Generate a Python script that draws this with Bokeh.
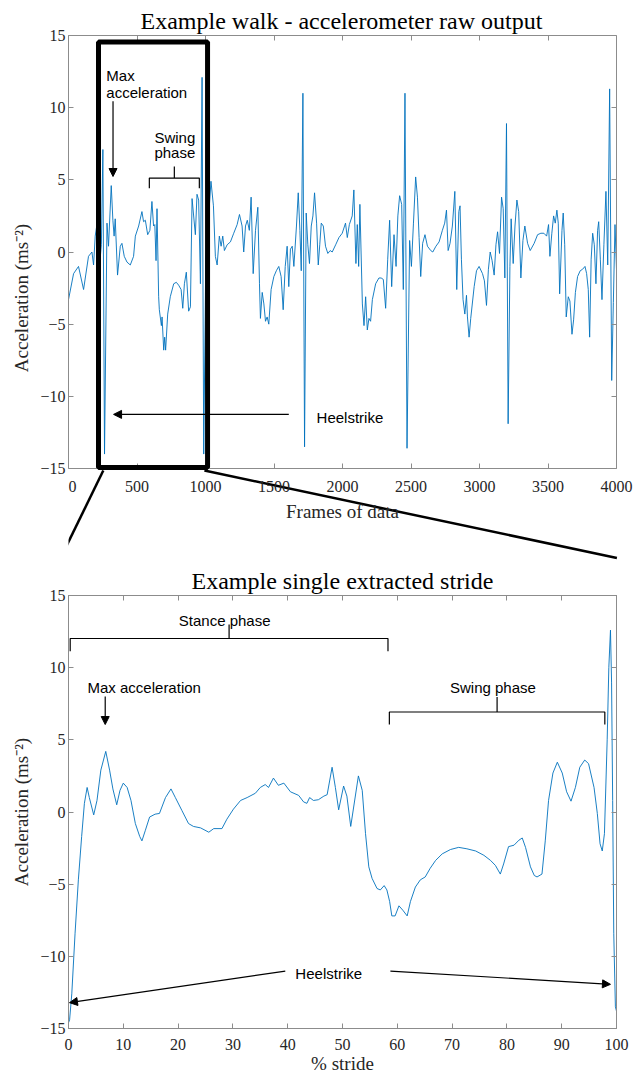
from bokeh.plotting import figure
from bokeh.layouts import column
from bokeh.models import (Range1d, LinearAxis, SingleIntervalTicker, CustomJSTickFormatter,
                          Label, Arrow, NormalHead, BoxAnnotation)
from bokeh.embed import file_html
from bokeh.resources import INLINE

# ---------------------------------------------------------------- data
# raw accelerometer trace of a walk (frame index, acceleration in m/s^2)
walk_frames = [
    0, 37, 73, 110, 146, 171, 183, 195, 212, 228, 240, 251, 263, 281, 292, 312, 324, 333,
    341, 358, 378, 390, 407, 427, 451, 475, 488, 512, 536, 548, 561, 578, 594, 609, 621,
    630, 639, 646, 658, 663, 678, 683, 695, 702, 709, 724, 743, 768, 787, 804, 822, 834,
    846, 860, 877, 890, 902, 926, 938, 950, 963, 975, 987, 1002, 1040, 1058, 1072, 1085,
    1101, 1114, 1126, 1138, 1158, 1182, 1206, 1231, 1248, 1267, 1279, 1292, 1305, 1320,
    1333, 1348, 1365, 1382, 1394, 1401, 1414, 1426, 1438, 1450, 1462, 1479, 1499, 1517,
    1535, 1552, 1567, 1582, 1596, 1608, 1620, 1633, 1645, 1664, 1677, 1689, 1699, 1711,
    1723, 1735, 1747, 1759, 1772, 1784, 1796, 1811, 1823, 1834, 1845, 1860, 1876, 1893,
    1910, 1925, 1950, 1974, 1998, 2022, 2035, 2050, 2071, 2083, 2098, 2108, 2118, 2127,
    2145, 2157, 2169, 2181, 2193, 2205, 2218, 2242, 2266, 2282, 2298, 2315, 2330, 2344,
    2359, 2376, 2391, 2404, 2417, 2432, 2444, 2456, 2471, 2490, 2503, 2518, 2534, 2547,
    2559, 2571, 2585, 2602, 2620, 2644, 2659, 2682, 2705, 2729, 2746, 2759, 2771, 2785,
    2802, 2820, 2834, 2849, 2858, 2868, 2880, 2893, 2905, 2912, 2924, 2936, 2961, 2978,
    2997, 3022, 3036, 3051, 3065, 3078, 3092, 3107, 3120, 3132, 3146, 3161, 3173, 3185,
    3197, 3209, 3222, 3231, 3246, 3259, 3273, 3286, 3302, 3317, 3331, 3351, 3370, 3399,
    3424, 3448, 3470, 3490, 3504, 3514, 3528, 3541, 3553, 3565, 3575, 3585, 3602, 3611,
    3622, 3633, 3648, 3660, 3675, 3687, 3700, 3716, 3735, 3752, 3770, 3782, 3794, 3804,
    3815, 3826, 3838, 3850, 3862, 3870, 3882, 3894, 3908, 3923, 3936, 3950, 3965, 3977,
    3989, 4000,
]
walk_accel = [
    -3.3, -1.5, -1.0, -2.6, -0.3, 0.0, -0.9, 1.1, 2.2, -0.8, 0.5, 7.1, -14.0, 2.0, 0.4, 4.6, 2.2, 1.1,
    2.3, -1.6, 0.4, 0.6, -0.3, -0.7, -0.9, -0.3, 1.1, 1.8, 2.8, 2.1, 2.2, 1.2, 1.5, 3.5, 1.8,
    1.9, -0.6, 3.0, -3.1, -4.0, -5.1, -4.5, -6.8, -5.9, -6.8, -4.3, -3.1, -2.2, -2.1, -2.3, -2.6, -3.9,
    -2.2, -1.4, -4.1, -3.8, 3.7, 1.2, 4.0, 3.6, -2.2, 12.1, -14.0, -0.5, 4.9, 3.2, -0.3, -0.9,
    1.1, 0.4, 1.1, 0.1, 0.5, 0.7, 1.3, 1.9, 2.6, 1.8, 0.0, 1.8, 2.2, 1.5,
    3.8, -1.5, 1.5, 3.1, -2.2, -4.6, -2.8, -3.6, -4.8, -4.5, -5.0, -2.6, -1.7, -1.3,
    -1.0, -1.7, -4.0, -1.0, 0.4, -2.4, 0.2, 0.4, -1.0, 1.8, 4.1, 1.5, -1.3, 11.0,
    -13.5, 2.7, 0.5, -0.8, 1.8, 2.5, 4.1, 2.0, -0.9, 0.5, 2.0, 1.8, 0.4, -0.1,
    0.1, 0.0, 0.5, 1.0, 1.3, 2.0, 1.0, 1.9, 2.5, 4.3, -0.8, 1.9, -1.0, 3.3,
    -3.6, -5.1, -3.1, -5.4, -4.6, -4.8, -3.3, -2.2, -1.8, -1.8, -1.9, -3.9, -0.5, 2.2,
    -2.4, 1.2, -1.0, 2.5, 3.9, 3.3, -2.6, 11.0, -13.6, 0.8, -1.0, 2.0, 5.2, 3.8,
    1.0, -1.7, 0.6, 1.2, 0.4, 0.1, 0.0, 0.4, 0.7, 1.5, 2.0, 2.9, 0.1, 0.6,
    1.8, 4.2, -2.6, 2.8, 3.2, -0.5, -3.3, -4.3, -3.0, -4.5, -5.9, -4.6, -2.4, -1.3,
    -1.0, -1.5, -2.0, -3.7, -1.2, 0.0, -0.6, -1.6, 0.5, 1.4, -0.1, 3.8, 3.0, -1.8,
    8.9, -11.9, -1.0, 2.3, -0.8, 1.8, 3.6, 2.8, -1.8, 0.8, 1.8, 0.6, 0.1, 0.6,
    1.2, 1.3, 1.3, 1.1, 1.9, -0.3, 1.3, 2.5, 2.0, 2.9, 2.0, -2.9, 1.5, 2.7,
    0.5, -4.5, -3.1, -3.4, -5.7, -4.7, -2.8, -1.7, -1.3, -1.2, -1.0, -1.5, -2.6, -5.9,
    -0.5, 1.3, 0.5, -2.2, 1.5, 2.1, -0.5, -3.3, 0.5, 4.2, -0.9, 11.3, -8.9, -3.5,
    1.9, -1.2,
]

# one stride cut out of the walk, time normalised to % of the stride
stride_pct = [
    0, 0.2, 0.6, 1.2, 1.8, 2.4, 2.9, 3.4, 3.8, 4.6, 5.2, 5.9, 6.8, 7.5, 8.1, 8.8, 9.4, 10.0,
    10.7, 11.4, 12.2, 13.0, 13.4, 14.0, 14.8, 15.8, 16.6, 17.7, 18.7, 19.5, 20.7, 21.9,
    22.8, 24.1, 25.6, 26.5, 28.0, 28.9, 30.1, 31.4, 32.6, 34.1, 35.0, 35.9, 36.5, 37.4,
    38.3, 39.3, 40.5, 42.0, 42.9, 43.5, 44.0, 44.7, 45.6, 46.6, 47.2, 48.1, 48.7, 49.3,
    50.2, 50.8, 51.5, 52.9, 53.6, 54.2, 54.8, 55.4, 56.3, 56.9, 57.6, 58.1, 58.6, 59.0,
    59.6, 60.3, 61.0, 61.8, 62.4, 63.3, 64.2, 65.1, 66.0, 67.0, 68.2, 69.7, 71.2, 72.7,
    74.3, 75.8, 77.0, 77.9, 78.8, 79.4, 80.3, 81.3, 82.2, 82.8, 83.4, 84.3, 85.0, 85.5,
    86.4, 87.0, 87.6, 88.4, 89.2, 90.1, 90.9, 91.7, 92.5, 93.3, 94.2, 94.9, 95.9, 96.5,
    97.0, 97.4, 97.8, 98.3, 98.6, 98.9, 99.1, 99.3, 99.5, 99.8, 100,
]
stride_accel = [
    -14.6, -14.4, -12.6, -8.4, -4.7, -1.7, 0.6, 1.7, 1.0, -0.2, 0.8, 2.9, 4.2, 2.9, 1.6, 0.5, 1.5, 2.0,
    1.7, 0.8, -0.8, -1.7, -2.0, -1.3, -0.35, -0.15, -0.1, 1.0, 1.6, 1.0, 0.1, -0.8,
    -1.0, -1.1, -1.4, -1.15, -1.15, -0.5, 0.2, 0.8, 1.0, 1.3, 1.7, 1.9, 1.7, 2.35,
    1.85, 2.0, 1.4, 1.15, 0.7, 0.6, 1.0, 0.8, 0.85, 1.1, 1.2, 3.1, 1.7, 0.15,
    1.8, 1.1, -1.0, 2.5, 1.5, -1.5, -3.8, -4.6, -5.3, -5.4, -5.1, -5.4, -6.2, -7.2,
    -7.2, -6.5, -6.8, -7.2, -6.2, -5.2, -4.7, -4.5, -3.9, -3.35, -2.9, -2.6, -2.45, -2.55,
    -2.7, -3.0, -3.35, -3.7, -4.3, -3.6, -2.4, -2.3, -1.95, -1.8, -2.45, -3.8, -4.4, -4.5,
    -4.3, -2.0, 0.8, 2.7, 3.45, 2.7, 1.4, 0.75, 1.7, 3.1, 3.6, 3.35, 1.7, -0.1,
    -2.2, -2.7, -1.5, 5.0, 10.0, 12.6, 9.0, 0.8, -8.4, -13.5, -13.8,
]

# ---------------------------------------------------------------- styling
BLUE = "#0072BD"
AXIS_GREY = "#8c8c8c"
LABEL_COLOR = "#262626"
SERIF = "Liberation Serif"
SANS = "Liberation Sans"

BOX_W, BOX_H = 548, 433          # size of each axes box in pixels
LEFT_PX, RIGHT_PX = 68, 19       # page margins beside the boxes
Y_LO, Y_HI = -15, 15


def style_axis(ax, labelled=True):
    ax.axis_line_color = AXIS_GREY
    ax.major_tick_line_color = AXIS_GREY
    ax.major_tick_in = 5
    ax.major_tick_out = 0
    ax.minor_tick_in = 0
    ax.minor_tick_out = 0
    if labelled:
        ax.major_label_text_font = SERIF
        ax.major_label_text_font_size = "16px"
        ax.major_label_text_color = LABEL_COLOR
        ax.axis_label_text_font = SERIF
        ax.axis_label_text_font_size = "19px"
        ax.axis_label_text_font_style = "normal"
        ax.axis_label_text_color = LABEL_COLOR
    else:
        ax.formatter = CustomJSTickFormatter(code="return ''")
        ax.major_label_standoff = 0
        ax.major_label_text_font_size = "1px"


def style_title(p, text):
    p.title.text = text
    p.title.align = "center"
    p.title.text_font = SERIF
    p.title.text_font_size = "24px"
    p.title.text_font_style = "normal"
    p.title.text_color = "black"
    p.title.standoff = 4


def note(p, text, x, y, align="left"):
    p.add_layout(Label(x=x, y=y, text=text, text_font=SANS, text_font_size="15px",
                       text_color="black", text_align=align, text_baseline="alphabetic"))


def arrow(p, x0, y0, x1, y1):
    p.add_layout(Arrow(end=NormalHead(size=8, fill_color="black", line_color="black"),
                       x_start=x0, y_start=y0, x_end=x1, y_end=y1,
                       line_color="black", line_width=1.2))


def bracket(p, x0, x1, y, drop, rise):
    xm = (x0 + x1) / 2
    p.multi_line(xs=[[x0, x0, x1, x1], [xm, xm]],
                 ys=[[y - drop, y, y, y - drop], [y, y + rise]],
                 line_color="black", line_width=1.2)


# ---------------------------------------------------------------- raw walk
# The drawing area of this panel runs on past the right edge of the axes box and
# down to the second panel, so the zoom lines can be drawn below the box; the
# bottom and right axes sit at fixed data locations on the box edges.
X_END = 4000
BELOW_PX = 92
x_per_px = X_END / BOX_W
y_per_px = (Y_HI - Y_LO) / BOX_H
top = figure(frame_width=BOX_W + RIGHT_PX, frame_height=BOX_H + BELOW_PX,
             x_range=Range1d(0, X_END + RIGHT_PX * x_per_px),
             y_range=Range1d(Y_LO - BELOW_PX * y_per_px, Y_HI),
             x_axis_location=None, y_axis_location=None,
             output_backend="svg", toolbar_location=None,
             min_border_left=LEFT_PX, min_border_right=0, min_border_top=35,
             min_border_bottom=0)
top.grid.visible = False
top.outline_line_color = None
style_title(top, "Example walk - accelerometer raw output")
top.title.align = "left"
top.title.offset = 72

xb = LinearAxis(ticker=SingleIntervalTicker(interval=500), fixed_location=Y_LO,
                bounds=(0, X_END), axis_label="Frames of data",
                major_label_standoff=9, axis_label_standoff=3,
                # keep the first label clear of the drawing-area edge
                major_label_overrides={0: "\u20070"})
style_axis(xb)
top.add_layout(xb, "below")
yl = LinearAxis(ticker=SingleIntervalTicker(interval=5), bounds=(Y_LO, Y_HI),
                axis_label="Acceleration (ms\u207b\u00b2)",
                major_label_standoff=3, axis_label_standoff=5)
style_axis(yl)
top.add_layout(yl, "left")
xt = LinearAxis(ticker=SingleIntervalTicker(interval=500), bounds=(0, X_END))
style_axis(xt, labelled=False)
top.add_layout(xt, "above")
yr = LinearAxis(ticker=SingleIntervalTicker(interval=5), fixed_location=X_END,
                bounds=(Y_LO, Y_HI))
style_axis(yr, labelled=False)
top.add_layout(yr, "right")

top.line(walk_frames, walk_accel, line_color=BLUE, line_width=0.9)

# zoom window around the extracted stride
top.add_layout(BoxAnnotation(left=219, right=1015, bottom=-14.93, top=14.55,
                             fill_alpha=0, line_color="black", line_alpha=1.0, line_width=5))
# lines leading from the window down to the stride panel
top.segment(x0=[254, 992], y0=[-15.14, -15.14], x1=[-66, 4003], y1=[-21.37, -21.2],
            line_color="black", line_width=2.5)

note(top, "Max", 276, 12.22)
note(top, "acceleration", 276, 11.06)
arrow(top, 325, 10.44, 325, 5.23)
note(top, "Swing", 627, 7.94)
note(top, "phase", 627, 6.92)
bracket(top, 590, 955, 5.12, 0.70, 0.80)
arrow(top, 1608, -11.25, 329, -11.25)
note(top, "Heelstrike", 1811, -11.44)

# ---------------------------------------------------------------- single stride
bottom = figure(frame_width=BOX_W, frame_height=BOX_H,
                x_range=Range1d(0, 100), y_range=Range1d(Y_LO, Y_HI),
                output_backend="svg", toolbar_location=None,
                min_border_left=LEFT_PX, min_border_right=RIGHT_PX,
                min_border_top=35, min_border_bottom=49)
bottom.grid.visible = False
bottom.outline_line_color = AXIS_GREY
style_title(bottom, "Example single extracted stride")
bottom.xaxis.ticker = SingleIntervalTicker(interval=10)
bottom.yaxis.ticker = SingleIntervalTicker(interval=5)
bottom.xaxis.axis_label = "% stride"
bottom.yaxis.axis_label = "Acceleration (ms\u207b\u00b2)"
bottom.xaxis.major_label_standoff = 10
bottom.yaxis.major_label_standoff = 3
bottom.xaxis.axis_label_standoff = 0
bottom.yaxis.axis_label_standoff = 5
style_axis(bottom.xaxis[0])
style_axis(bottom.yaxis[0])
bt = LinearAxis(ticker=SingleIntervalTicker(interval=10))
style_axis(bt, labelled=False)
bottom.add_layout(bt, "above")
br = LinearAxis(ticker=SingleIntervalTicker(interval=5))
style_axis(br, labelled=False)
bottom.add_layout(br, "right")

bottom.line(stride_pct, stride_accel, line_color=BLUE, line_width=0.9)

note(bottom, "Stance phase", 28.5, 13.28, align="center")
bracket(bottom, 0.31, 58.3, 12.02, 0.88, 0.97)
note(bottom, "Max acceleration", 3.47, 8.64)
arrow(bottom, 6.7, 8.0, 6.7, 6.06)
note(bottom, "Swing phase", 77.45, 8.66, align="center")
bracket(bottom, 58.55, 97.87, 6.93, 0.87, 1.04)
note(bottom, "Heelstrike", 41.4, -11.16)
arrow(bottom, 39.56, -11.02, 0.18, -13.21)
arrow(bottom, 58.74, -11.02, 98.9, -11.94)

layout = column(top, bottom, spacing=0)
open("out.html", "w").write(file_html(layout, INLINE))
